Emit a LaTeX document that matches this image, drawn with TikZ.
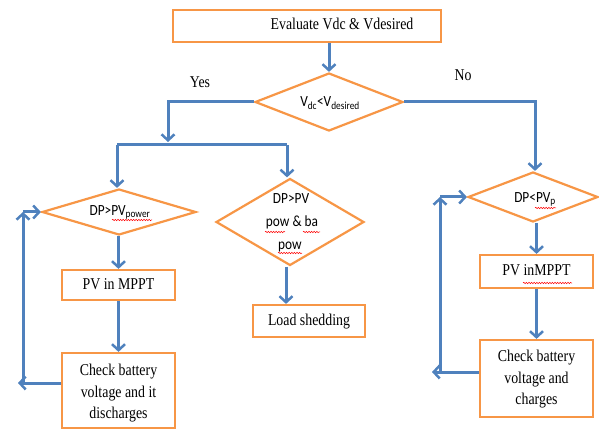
\documentclass[tikz,border=0pt]{standalone}
\usepackage{fontspec}
\usepackage{graphicx}
\setmainfont{Liberation Serif}
\newfontfamily\calfont{Carlito}
\usetikzlibrary{arrows.meta,shapes.geometric,decorations.pathmorphing}
\definecolor{boxorange}{RGB}{247,150,70}
\definecolor{arrowblue}{RGB}{79,129,189}
\newcommand{\narrowtxt}[2][0.84]{\scalebox{#1}[1]{\begin{tabular}{@{}c@{}}#2\end{tabular}}}
\tikzset{
  procbox/.style={draw=boxorange,line width=2.2pt,fill=white,inner sep=0pt,
    font=\fontsize{16.5}{21.5}\selectfont},
  decbox/.style={draw=boxorange,line width=2.2pt,fill=white,diamond,inner sep=0pt},
  dectext/.style={inner sep=0pt,font=\calfont\fontsize{15.5}{22.5}\selectfont},
  lbl/.style={inner sep=0pt,font=\fontsize{16.5}{18}\selectfont},
  flow/.style={draw=arrowblue,line width=3pt},
  flowarrow/.style={flow,-{Straight Barb[length=6pt,width=13pt,line width=2.5pt]}},
  squig/.style={draw=red,line width=0.5pt,decorate,decoration={snake,amplitude=0.7pt,segment length=2.6pt}}
}
\begin{document}
\begin{tikzpicture}[x=1pt,y=-1pt]
\useasboundingbox (0,0) rectangle (599,430);
% nodes
\node[procbox,minimum width=268pt,minimum height=32pt] (top) at (307,26) {};
\node[lbl] (toptext) at (342,26) {\narrowtxt{Evaluate Vdc \& Vdesired}};
\node[decbox,minimum width=148pt,minimum height=58pt] (d0) at (329,102) {};
\node[dectext] (d0text) at (330,102) {\narrowtxt[0.86]{V\textsubscript{dc}<V\textsubscript{desired}}};
\node[lbl] (yes) at (200,84) {\narrowtxt{Yes}};
\node[lbl] (no) at (463,77) {\narrowtxt{No}};

\node[decbox,minimum width=154pt,minimum height=46pt] (d1) at (119,212) {};
\node[dectext] (d1text) at (120,211) {\narrowtxt[0.86]{DP>PV\textsubscript{power}}};
\node[procbox,minimum width=113pt,minimum height=30pt] (pv1) at (118.5,285) {\narrowtxt{PV in MPPT}};
\node[procbox,minimum width=113pt,minimum height=75pt] (cb1) at (118.5,390.5) {};
\node[procbox,draw=none,fill=none] (cb1text) at (118.5,393) {\narrowtxt{Check battery\\voltage and it\\discharges}};

\node[decbox,minimum width=148pt,minimum height=87pt] (d2) at (290,222) {};
\node[dectext] (d2l1) at (291,199) {\narrowtxt[0.86]{DP>PV}};
\node[dectext] (d2l2) at (292,222) {\narrowtxt[0.86]{pow \& ba}};
\node[dectext] (d2l3) at (290,245) {\narrowtxt[0.86]{pow}};
\node[procbox,minimum width=112pt,minimum height=32pt] (ls) at (309,321) {\narrowtxt{Load shedding}};

\node[decbox,minimum width=130pt,minimum height=50pt] (d3) at (533,197) {};
\node[dectext] (d3text) at (535,198) {\narrowtxt[0.86]{DP<PV\textsubscript{p}}};
\node[procbox,minimum width=113pt,minimum height=33pt] (pv2) at (536.5,271.5) {\narrowtxt{PV inMPPT}};
\node[procbox,minimum width=113pt,minimum height=77pt] (cb2) at (536.5,378.5) {};
\node[procbox,draw=none,fill=none] (cb2text) at (536.5,379) {\narrowtxt{Check battery\\voltage and\\charges}};

% coordinates
\coordinate (yesc) at (168,102);
\coordinate (yesend) at (168,142);
\coordinate (splitl) at (117,145);
\coordinate (splitr) at (287,145);
\coordinate (noc) at (535,102);
\coordinate (fb1a) at (18,383);
\coordinate (fb1b) at (23,383);
\coordinate (fb1c) at (23,212);
\coordinate (fb2a) at (432,372);
\coordinate (fb2b) at (440,372);
\coordinate (fb2c) at (440,197);

% connectors
\draw[flowarrow] (top.south -| d0.north) -- (d0.north);
\draw[flowarrow] (d0.west) -- (yesc) -- (yesend);
\draw[flow] (splitl) -- (splitr);
\draw[flowarrow] (splitl) -- (splitl |- d1.north);
\draw[flowarrow] (splitr) -- (splitr |- d2.north);
\draw[flowarrow] (d0.east) -- (noc) -- (noc |- d3.north);

\draw[flowarrow] (d1.south -| pv1.north) -- (pv1.north);
\draw[flowarrow] (pv1.south) -- (cb1.north);
\draw[flowarrow] (cb1.west |- fb1a) -- (fb1a);
\draw[flowarrow] (fb1b) -- (fb1c);
\draw[flowarrow] (fb1c) -- (fb1c -| d1.west);

\draw[flowarrow] (d2.south) ++(-4,0) coordinate (d2s) -- (d2s |- ls.north);

\draw[flowarrow] (d3.south -| pv2.north) -- (pv2.north);
\draw[flowarrow] (pv2.south) -- (cb2.north);
\draw[flowarrow] (cb2.west |- fb2a) -- (fb2a);
\draw[flowarrow] (fb2b) -- (fb2c);
\draw[flowarrow] (fb2c) -- (fb2c -| d3.west);

% spelling squiggles
\draw[squig] (112,220) -- (152,220);
\draw[squig] (265,232) -- (285,232);
\draw[squig] (303,232) -- (320,232);
\draw[squig] (278,253) -- (302,253);
\draw[squig] (535,208) -- (556,208);
\draw[squig] (523,283) -- (572,283);
\end{tikzpicture}
\end{document}
